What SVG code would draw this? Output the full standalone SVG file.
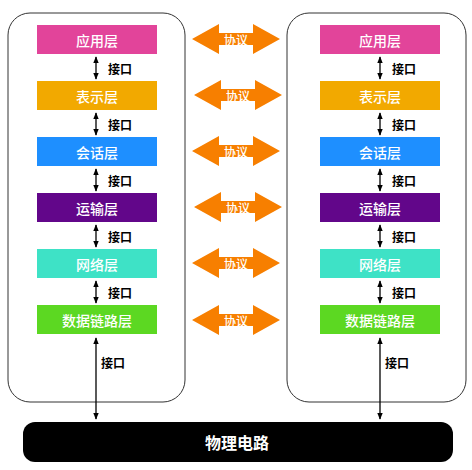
<svg xmlns="http://www.w3.org/2000/svg" width="472" height="470" viewBox="0 0 472 470">
<style>
.frame{fill:#fff;stroke:#333;stroke-width:1}
.lt{font-family:"Noto Sans CJK SC","Liberation Sans",sans-serif;font-size:14px;font-weight:500;fill:#fff;text-anchor:middle;dominant-baseline:central}
.if{font-family:"Noto Sans CJK SC","Liberation Sans",sans-serif;font-size:12px;font-weight:bold;fill:#000;dominant-baseline:central}
.pt{font-family:"Noto Sans CJK SC","Liberation Sans",sans-serif;font-size:12px;font-weight:500;fill:#fff;text-anchor:middle;dominant-baseline:central}
.conn{stroke:#000;stroke-width:1.3;fill:none;marker-start:url(#ah);marker-end:url(#ah)}
.proto{fill:#F77F00}
</style>
<defs>
<marker id="ah" viewBox="0 0 10 10" refX="9" refY="5" markerWidth="7" markerHeight="7" orient="auto-start-reverse" markerUnits="userSpaceOnUse">
<path d="M0,1 L10,5 L0,9 Z" fill="#000"/>
</marker>
<path id="parrow" d="M0,15 L27,0 L27,9 L61,9 L61,0 L88,15 L61,30 L61,21 L27,21 L27,30 Z"/>
</defs>
<rect width="472" height="470" fill="#fff"/>
<g id="left-stack">
<rect class="frame" x="8" y="13" width="177" height="389" rx="22"/>
</g>
<g id="right-stack">
<rect class="frame" x="287" y="13" width="179" height="389" rx="22"/>
</g>
<g id="L-app"><rect x="37" y="25" width="120" height="29" fill="#E2449A"/><text class="lt" x="97" y="40">应用层</text></g>
<g id="L-pres"><rect x="37" y="81" width="120" height="29" fill="#F2A900"/><text class="lt" x="97" y="96">表示层</text></g>
<g id="L-sess"><rect x="37" y="137" width="120" height="29" fill="#1E8FFF"/><text class="lt" x="97" y="152">会话层</text></g>
<g id="L-trans"><rect x="37" y="193" width="120" height="29" fill="#62068A"/><text class="lt" x="97" y="208">运输层</text></g>
<g id="L-net"><rect x="37" y="249" width="120" height="29" fill="#3EE2C6"/><text class="lt" x="97" y="264">网络层</text></g>
<g id="L-link"><rect x="37" y="305" width="120" height="29" fill="#5CD822"/><text class="lt" x="97" y="320">数据链路层</text></g>
<g id="R-app"><rect x="320" y="25" width="120" height="29" fill="#E2449A"/><text class="lt" x="380" y="40">应用层</text></g>
<g id="R-pres"><rect x="320" y="81" width="120" height="29" fill="#F2A900"/><text class="lt" x="380" y="96">表示层</text></g>
<g id="R-sess"><rect x="320" y="137" width="120" height="29" fill="#1E8FFF"/><text class="lt" x="380" y="152">会话层</text></g>
<g id="R-trans"><rect x="320" y="193" width="120" height="29" fill="#62068A"/><text class="lt" x="380" y="208">运输层</text></g>
<g id="R-net"><rect x="320" y="249" width="120" height="29" fill="#3EE2C6"/><text class="lt" x="380" y="264">网络层</text></g>
<g id="R-link"><rect x="320" y="305" width="120" height="29" fill="#5CD822"/><text class="lt" x="380" y="320">数据链路层</text></g>
<g id="physical"><rect x="23" y="422" width="430" height="40" rx="12" fill="#000"/><text x="237" y="442" font-family="'Noto Sans CJK SC','Liberation Sans',sans-serif" font-size="16" font-weight="bold" fill="#fff" text-anchor="middle" dominant-baseline="central">物理电路</text></g>
<g id="connectors">
<line class="conn" x1="96" y1="57" x2="96" y2="79"/>
<line class="conn" x1="96" y1="113" x2="96" y2="135"/>
<line class="conn" x1="96" y1="169" x2="96" y2="191"/>
<line class="conn" x1="96" y1="225" x2="96" y2="247"/>
<line class="conn" x1="96" y1="281" x2="96" y2="303"/>
<line class="conn" x1="96" y1="338" x2="96" y2="419"/>
<line class="conn" x1="380" y1="57" x2="380" y2="79"/>
<line class="conn" x1="380" y1="113" x2="380" y2="135"/>
<line class="conn" x1="380" y1="169" x2="380" y2="191"/>
<line class="conn" x1="380" y1="225" x2="380" y2="247"/>
<line class="conn" x1="380" y1="281" x2="380" y2="303"/>
<line class="conn" x1="380" y1="338" x2="380" y2="419"/>
<text class="if" x="108" y="68">接口</text>
<text class="if" x="108" y="124">接口</text>
<text class="if" x="108" y="180">接口</text>
<text class="if" x="108" y="236">接口</text>
<text class="if" x="108" y="292">接口</text>
<text class="if" x="101" y="362">接口</text>
<text class="if" x="392" y="68">接口</text>
<text class="if" x="392" y="124">接口</text>
<text class="if" x="392" y="180">接口</text>
<text class="if" x="392" y="236">接口</text>
<text class="if" x="392" y="292">接口</text>
<text class="if" x="385" y="362">接口</text>
<use class="proto" href="#parrow" x="192" y="24"/><text class="pt" x="236" y="39">协议</text>
<use class="proto" href="#parrow" x="194" y="80"/><text class="pt" x="238" y="95">协议</text>
<use class="proto" href="#parrow" x="192" y="136"/><text class="pt" x="236" y="151">协议</text>
<use class="proto" href="#parrow" x="194" y="192"/><text class="pt" x="238" y="207">协议</text>
<use class="proto" href="#parrow" x="192" y="248"/><text class="pt" x="236" y="263">协议</text>
<use class="proto" href="#parrow" x="192" y="305"/><text class="pt" x="236" y="320">协议</text>
</g>
</svg>
